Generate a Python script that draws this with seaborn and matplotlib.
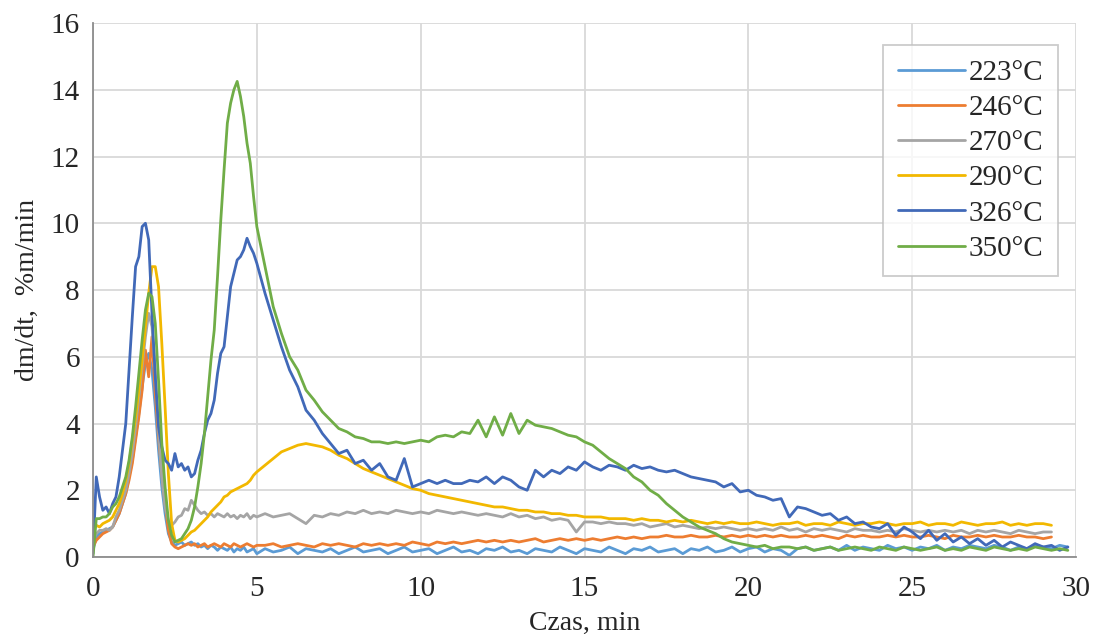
import numpy as np
import pandas as pd
import matplotlib
matplotlib.use("Agg")
import matplotlib.pyplot as plt
import seaborn as sns
from matplotlib.ticker import MultipleLocator

nan = np.nan

# time grids (min)
time_a = np.round(np.arange(0, 5.01, 0.1), 2)        # 0.0 .. 5.0
time_b = np.round(np.arange(5.25, 29.76, 0.25), 2)   # 5.25 .. 29.75

labels = ["223°C", "246°C", "270°C", "290°C", "326°C", "350°C"]
colors = ["#5B9BD5", "#ED7D31", "#A5A5A5", "#F2B800", "#4169B8", "#70AD47"]

# ---------------- 223 °C ----------------
s223_a = [0.2, 0.6, 0.7, 0.75, 0.8, 0.85, 0.9, 1.1, 1.3, 1.6,
          1.9, 2.4, 2.9, 3.6, 4.3, 5.1, 5.8, 6.1, 5.6, 4.5,
          3.2, 2.1, 1.3, 0.7, 0.45, 0.35, 0.4, 0.45, 0.35, 0.4,
          0.45, 0.35, 0.4, 0.3, 0.35, 0.25, 0.35, 0.3, 0.2, 0.3,
          0.25, 0.2, 0.3, 0.15, 0.25, 0.2, 0.3, 0.15, 0.2, 0.25, 0.1]
s223_b = [0.25, 0.15, 0.2, 0.3,
          0.1, 0.25, 0.2, 0.15,
          0.25, 0.1, 0.2, 0.3,
          0.15, 0.2, 0.25, 0.1,
          0.2, 0.3, 0.15, 0.2,
          0.25, 0.1, 0.2, 0.3,
          0.15, 0.2, 0.1, 0.25,
          0.2, 0.3, 0.15, 0.2,
          0.1, 0.25, 0.2, 0.15,
          0.3, 0.2, 0.1, 0.25,
          0.2, 0.15, 0.3, 0.2,
          0.1, 0.25, 0.2, 0.3,
          0.15, 0.2, 0.25, 0.1,
          0.25, 0.2, 0.3, 0.15,
          0.2, 0.3, 0.15, 0.25,
          0.3, 0.15, 0.25, 0.2,
          0.05, 0.25, 0.3, 0.2,
          0.25, 0.3, 0.2, 0.35,
          0.2, 0.3, 0.25, 0.2,
          0.35, 0.25, 0.3, 0.2,
          0.3, 0.25, 0.35, 0.2,
          0.3, 0.25, 0.35, 0.3,
          0.25, 0.35, 0.3, 0.2,
          0.3, 0.25, 0.35, 0.3,
          0.25, 0.35, 0.3]

# ---------------- 246 °C ----------------
s246_a = [0.3, 0.5, 0.6, 0.7, 0.75, 0.8, 0.9, 1.1, 1.3, 1.6,
          1.9, 2.3, 2.8, 3.5, 4.2, 5.0, 6.2, 5.4, 6.6, 4.9,
          3.6, 2.5, 1.6, 0.8, 0.4, 0.3, 0.25, 0.3, 0.35, 0.4,
          0.35, 0.4, 0.3, 0.35, 0.4, 0.3, 0.35, 0.4, 0.35, 0.3,
          0.4, 0.35, 0.3, 0.4, 0.35, 0.3, 0.35, 0.4, 0.35, 0.3, 0.35]
s246_b = [0.35, 0.4, 0.3, 0.35,
          0.4, 0.35, 0.3, 0.4,
          0.35, 0.4, 0.35, 0.3,
          0.4, 0.35, 0.4, 0.35,
          0.4, 0.35, 0.45, 0.4,
          0.35, 0.45, 0.4, 0.45,
          0.4, 0.45, 0.5, 0.45,
          0.5, 0.45, 0.5, 0.45,
          0.5, 0.55, 0.45, 0.5,
          0.55, 0.5, 0.55, 0.5,
          0.55, 0.5, 0.55, 0.6,
          0.55, 0.6, 0.55, 0.6,
          0.6, 0.65, 0.6, 0.6,
          0.65, 0.6, 0.6, 0.65,
          0.6, 0.65, 0.6, 0.65,
          0.6, 0.65, 0.6, 0.65,
          0.6, 0.6, 0.65, 0.6,
          0.65, 0.6, 0.55, 0.65,
          0.6, 0.65, 0.6, 0.6,
          0.65, 0.6, 0.65, 0.6,
          0.6, 0.65, 0.6, 0.55,
          0.65, 0.6, 0.6, 0.65,
          0.6, 0.65, 0.6, 0.6,
          0.65, 0.6, 0.6, 0.55,
          0.6, nan, nan]

# ---------------- 270 °C ----------------
s270_a = [0.5, 0.7, 0.8, 0.8, 0.85, 0.8, 0.9, 1.2, 1.4, 1.7,
          2.0, 2.5, 3.1, 3.9, 4.8, 5.7, 6.6, 7.3, 6.9, 5.6,
          3.8, 2.4, 1.5, 1.1, 0.95, 1.05, 1.2, 1.25, 1.45, 1.4,
          1.7, 1.55, 1.4, 1.3, 1.35, 1.25, 1.3, 1.2, 1.3, 1.25,
          1.2, 1.3, 1.2, 1.25, 1.15, 1.25, 1.2, 1.3, 1.15, 1.25, 1.2]
s270_b = [1.3, 1.2, 1.25, 1.3,
          1.15, 1.0, 1.25, 1.2,
          1.3, 1.25, 1.35, 1.3,
          1.4, 1.3, 1.35, 1.3,
          1.4, 1.35, 1.3, 1.35,
          1.3, 1.4, 1.35, 1.3,
          1.35, 1.3, 1.25, 1.3,
          1.25, 1.2, 1.3, 1.2,
          1.25, 1.15, 1.2, 1.1,
          1.15, 1.1, 0.75, 1.05,
          1.05, 1.0, 1.05, 1.0,
          1.0, 0.95, 1.0, 0.9,
          0.95, 1.0, 0.9, 0.95,
          0.9, 0.85, 0.9, 0.85,
          0.9, 0.85, 0.8, 0.85,
          0.8, 0.85, 0.8, 0.9,
          0.8, 0.85, 0.75, 0.85,
          0.8, 0.85, 0.8, 0.75,
          0.85, 0.8, 0.8, 0.75,
          0.8, 0.75, 0.85, 0.8,
          0.75, 0.8, 0.75, 0.8,
          0.75, 0.8, 0.7, 0.8,
          0.75, 0.8, 0.75, 0.7,
          0.8, 0.75, 0.7, 0.75,
          0.75, nan, nan]

# ---------------- 290 °C ----------------
s290_a = [0.8, 0.95, 0.9, 1.0, 1.05, 1.1, 1.2, 1.4, 1.6, 1.9,
          2.3, 2.8, 3.5, 4.2, 5.0, 5.9, 6.9, 7.9, 8.7, 8.7,
          8.1, 6.4, 4.5, 2.5, 1.0, 0.5, 0.45, 0.5, 0.55, 0.65,
          0.75, 0.8, 0.9, 1.0, 1.1, 1.2, 1.35, 1.45, 1.55, 1.65,
          1.8, 1.85, 1.95, 2.0, 2.05, 2.1, 2.15, 2.2, 2.3, 2.45, 2.55]
s290_b = [2.75, 2.95, 3.15, 3.25,
          3.35, 3.4, 3.35, 3.3,
          3.2, 3.05, 2.95, 2.8,
          2.65, 2.55, 2.45, 2.35,
          2.25, 2.15, 2.05, 2.0,
          1.9, 1.85, 1.8, 1.75,
          1.7, 1.65, 1.6, 1.55,
          1.5, 1.5, 1.45, 1.4,
          1.4, 1.35, 1.35, 1.3,
          1.3, 1.25, 1.25, 1.2,
          1.2, 1.2, 1.15, 1.15,
          1.15, 1.1, 1.15, 1.1,
          1.1, 1.05, 1.1, 1.05,
          1.1, 1.05, 1.0, 1.05,
          1.0, 1.05, 1.0, 1.0,
          1.05, 1.0, 0.95, 1.0,
          1.0, 1.05, 0.95, 1.0,
          1.0, 0.95, 1.05, 1.0,
          0.95, 1.0, 1.0, 1.05,
          1.0, 0.95, 1.0, 1.0,
          1.05, 0.95, 1.0, 1.0,
          0.95, 1.05, 1.0, 0.95,
          1.0, 1.0, 1.05, 0.95,
          1.0, 0.95, 1.0, 1.0,
          0.95, nan, nan]

# ---------------- 326 °C ----------------
s326_a = [0.1, 2.4, 1.8, 1.4, 1.5, 1.3, 1.6, 1.8, 2.4, 3.2,
          4.0, 5.6, 7.2, 8.7, 9.0, 9.9, 10.0, 9.5, 7.3, 5.4,
          3.9, 3.3, 2.9, 2.8, 2.6, 3.1, 2.7, 2.8, 2.6, 2.7,
          2.4, 2.5, 2.9, 3.2, 3.7, 4.1, 4.3, 4.7, 5.5, 6.1,
          6.3, 7.2, 8.1, 8.5, 8.9, 9.0, 9.2, 9.55, 9.3, 9.1, 8.8]
s326_b = [7.9, 7.1, 6.3, 5.6,
          5.1, 4.4, 4.1, 3.7,
          3.4, 3.1, 3.2, 2.8,
          2.9, 2.6, 2.8, 2.4,
          2.3, 2.95, 2.1, 2.2,
          2.3, 2.2, 2.3, 2.2,
          2.2, 2.3, 2.25, 2.4,
          2.2, 2.4, 2.3, 2.1,
          2.0, 2.6, 2.4, 2.6,
          2.5, 2.7, 2.6, 2.85,
          2.7, 2.6, 2.75, 2.7,
          2.6, 2.75, 2.65, 2.7,
          2.6, 2.55, 2.6, 2.5,
          2.4, 2.35, 2.3, 2.25,
          2.1, 2.2, 1.95, 2.0,
          1.85, 1.8, 1.7, 1.75,
          1.2, 1.5, 1.45, 1.35,
          1.25, 1.3, 1.1, 1.2,
          1.0, 1.05, 0.9, 0.85,
          1.0, 0.65, 0.9, 0.75,
          0.55, 0.8, 0.5, 0.7,
          0.45, 0.6, 0.4, 0.55,
          0.35, 0.5, 0.3, 0.45,
          0.35, 0.25, 0.4, 0.3,
          0.35, 0.2, 0.3]

# ---------------- 350 °C ----------------
s350_a = [0.0, 1.15, 1.15, 1.2, 1.2, 1.3, 1.5, 1.6, 1.8, 2.1,
          2.4, 2.9, 3.6, 4.5, 5.5, 6.5, 7.4, 7.9, 7.8, 7.0,
          5.3, 3.4, 2.1, 1.1, 0.65, 0.45, 0.5, 0.55, 0.7, 0.85,
          1.1, 1.5, 2.1, 2.8, 3.7, 4.8, 5.9, 6.8, 8.4, 10.1,
          11.6, 13.0, 13.6, 14.0, 14.25, 13.8, 13.2, 12.4, 11.8, 10.8, 9.9]
s350_b = [8.7, 7.5, 6.7, 6.0,
          5.6, 5.0, 4.7, 4.35,
          4.1, 3.85, 3.75, 3.6,
          3.55, 3.45, 3.45, 3.4,
          3.45, 3.4, 3.45, 3.5,
          3.45, 3.6, 3.65, 3.6,
          3.75, 3.7, 4.1, 3.6,
          4.2, 3.65, 4.3, 3.7,
          4.1, 3.95, 3.9, 3.85,
          3.75, 3.65, 3.6, 3.45,
          3.35, 3.15, 2.95, 2.8,
          2.65, 2.4, 2.25, 2.0,
          1.85, 1.6, 1.4, 1.2,
          1.05, 0.9, 0.8, 0.7,
          0.55, 0.45, 0.4, 0.35,
          0.3, 0.35, 0.25, 0.3,
          0.3, 0.25, 0.3, 0.2,
          0.25, 0.3, 0.2, 0.25,
          0.3, 0.25, 0.2, 0.3,
          0.25, 0.2, 0.3, 0.25,
          0.2, 0.25, 0.3, 0.2,
          0.25, 0.2, 0.3, 0.25,
          0.2, 0.3, 0.25, 0.2,
          0.25, 0.2, 0.3, 0.25,
          0.2, 0.25, 0.2]

series_a = [s223_a, s246_a, s270_a, s290_a, s326_a, s350_a]
series_b = [s223_b, s246_b, s270_b, s290_b, s326_b, s350_b]

time_all = np.concatenate([time_a, time_b])
frames = []
for lab, a, b in zip(labels, series_a, series_b):
    assert len(a) == len(time_a), (lab, len(a))
    assert len(b) == len(time_b), (lab, len(b))
    v = np.array(a + b, dtype=float)
    d = pd.DataFrame({"t": time_all, "v": v, "series": lab}).dropna()
    frames.append(d)
df = pd.concat(frames, ignore_index=True)

sns.set_style("white")
plt.rcParams["font.family"] = ["Liberation Serif", "DejaVu Serif"]

fig = plt.figure(figsize=(10.98, 6.39), dpi=100)
ax = fig.add_axes([0.0847, 0.1283, 0.8953, 0.8357])

sns.lineplot(data=df, x="t", y="v", hue="series", hue_order=labels,
             palette=colors, linewidth=2.0, estimator=None, sort=False,
             ax=ax, legend=True)

ax.set_xlim(0, 30)
ax.set_ylim(0, 16)
ax.xaxis.set_major_locator(MultipleLocator(5))
ax.xaxis.set_minor_locator(MultipleLocator(1))
ax.yaxis.set_major_locator(MultipleLocator(2))
ax.yaxis.set_minor_locator(MultipleLocator(0.4))
ax.grid(which="major", color="#D9D9D9", linewidth=1.3)
ax.grid(which="minor", visible=False)
ax.set_axisbelow(True)

for s in ["top", "right"]:
    ax.spines[s].set_visible(False)
for s in ["left", "bottom"]:
    ax.spines[s].set_color("#8C8C8C")
    ax.spines[s].set_linewidth(1.3)

ax.tick_params(axis="y", which="major", direction="inout", length=9,
               width=1.3, color="#8C8C8C", labelsize=21, pad=5)
ax.tick_params(axis="y", which="minor", direction="inout", length=8,
               width=1.3, color="#8C8C8C")
ax.tick_params(axis="x", which="major", direction="out", length=6,
               width=1.3, color="#8C8C8C", labelsize=21, pad=8)
ax.tick_params(axis="x", which="minor", direction="out", length=6,
               width=1.3, color="#8C8C8C")

ax.set_xlabel("Czas, min", fontsize=20, labelpad=6)
ax.set_ylabel("dm/dt,  %m/min", fontsize=20, labelpad=8)

handles, labs = ax.get_legend_handles_labels()
leg = ax.legend(handles, labs, loc="upper right", bbox_to_anchor=(0.982, 0.959),
                borderaxespad=0, fontsize=21, frameon=True, fancybox=False,
                edgecolor="#BFBFBF", handlelength=2.3, handletextpad=0.15,
                labelspacing=0.3, borderpad=0.5)
leg.get_frame().set_linewidth(1.3)
for ln in leg.get_lines():
    ln.set_linewidth(2.0)

fig.savefig("out.png", dpi=100)
